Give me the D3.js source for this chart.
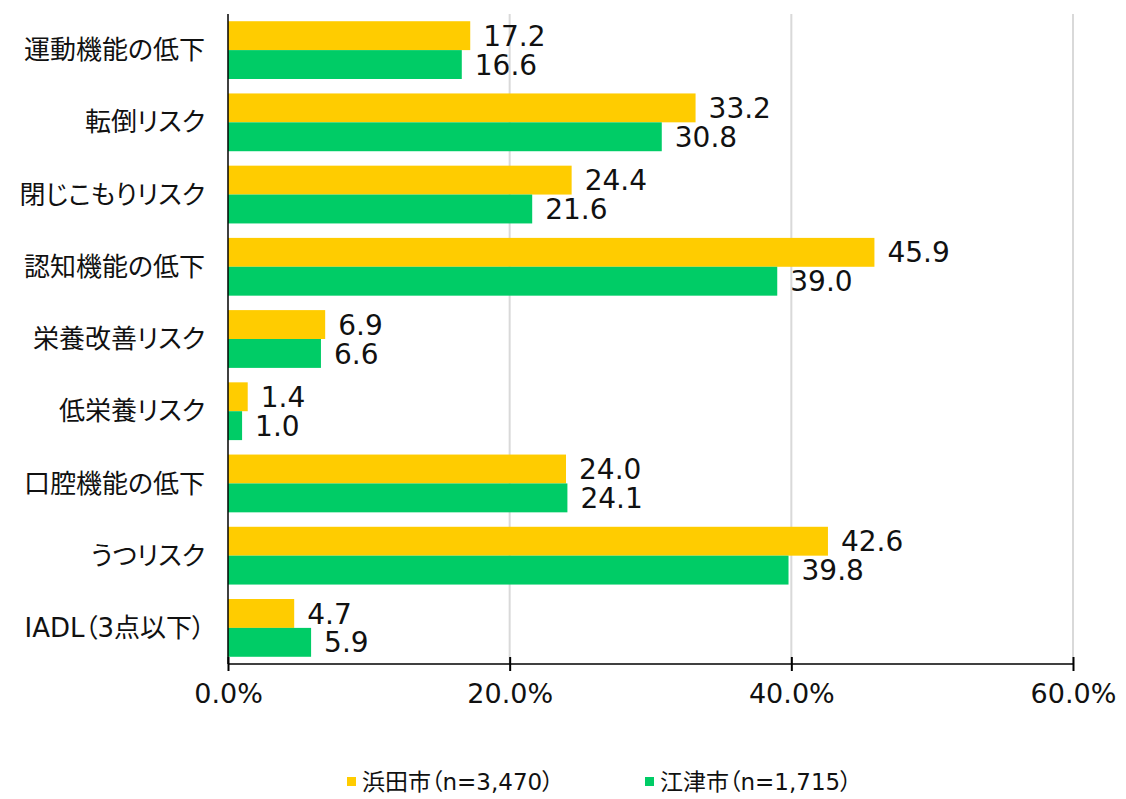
<!DOCTYPE html>
<html><head><meta charset="utf-8">
<script src="https://cdn.jsdelivr.net/npm/d3@7"></script>
<style>body{margin:0;background:#fff} text{font-feature-settings:"palt" 1;}</style>
</head><body>
<svg id="c" width="1126" height="799"></svg>
<script>
const categories = ["運動機能の低下","転倒リスク","閉じこもりリスク","認知機能の低下","栄養改善リスク","低栄養リスク","口腔機能の低下","うつリスク","IADL（3点以下）"];
const hamada = [17.2,33.2,24.4,45.9,6.9,1.4,24.0,42.6,4.7];
const gotsu = [16.6,30.8,21.6,39.0,6.6,1.0,24.1,39.8,5.9];
const seriesNames = ["浜田市（n=3,470）","江津市（n=1,715）"];
const xTicks = [0,20,40,60];
const colors = ["#FFCC00","#00CC66"];

const svg = d3.select("#c");
const font = "'DejaVu Sans','Noto Sans CJK JP',sans-serif";
const x = d3.scaleLinear().domain([0,60]).range([228,1073]);
const y = d3.scaleBand().domain(categories).range([14,664]).paddingInner(0.2).paddingOuter(0.1);
const y1 = d3.scaleBand().domain([0,1]).range([0,y.bandwidth()]);

// grid
svg.append("g").selectAll("line").data(xTicks.filter(d=>d>0)).join("line")
  .attr("x1",d=>x(d)).attr("x2",d=>x(d)).attr("y1",14).attr("y2",664)
  .attr("stroke","#d9d9d9").attr("stroke-width",2);

const series = [hamada,gotsu];
series.forEach((vals,si)=>{
  const g = svg.append("g");
  g.selectAll("rect").data(categories).join("rect")
    .attr("x",x(0)).attr("y",d=>y(d)+y1(si))
    .attr("width",(d,i)=>x(vals[i])-x(0)).attr("height",y1.bandwidth())
    .attr("fill",colors[si]);
  g.selectAll("text").data(categories).join("text")
    .attr("x",(d,i)=>x(vals[i])+13).attr("y",d=>y(d)+y1(si)+y1.bandwidth()/2)
    .attr("dy","0.36em").attr("font-family",font).attr("font-size",28).attr("fill","#111")
    .text((d,i)=>vals[i].toFixed(1));
});

// y axis line
svg.append("line").attr("x1",228).attr("x2",228).attr("y1",14).attr("y2",664).attr("stroke","#000").attr("stroke-width",1.5);
// category labels
svg.append("g").selectAll("text").data(categories).join("text")
  .attr("x",205).attr("y",d=>y(d)+y.bandwidth()/2).attr("dy","0.35em")
  .attr("text-anchor","end").attr("font-family",font).attr("font-size",26).attr("fill","#111")
  .text(d=>d);

// x axis
const xa = svg.append("g").attr("transform","translate(0,664)")
  .call(d3.axisBottom(x).tickValues(xTicks).tickSize(7).tickFormat(d=>d.toFixed(1)+"%"));
xa.select(".domain").attr("stroke","#000").attr("stroke-width",1.5).attr("d","M228,0H1073");
xa.selectAll(".tick line").attr("stroke","#000").attr("stroke-width",2).attr("y1",-7).attr("y2",7);
xa.selectAll(".tick text").attr("font-family",font).attr("font-size",27).attr("fill","#111").attr("y",20).attr("dy","0.71em");

// legend
const lg = [{x:347},{x:645}];
seriesNames.forEach((n,i)=>{
  svg.append("rect").attr("x",lg[i].x).attr("y",777).attr("width",9).attr("height",9).attr("fill",colors[i]);
  svg.append("text").attr("x",lg[i].x+15).attr("y",782).attr("dy","0.36em")
    .attr("font-family",font).attr("font-size",23).attr("fill","#111").text(n);
});
</script>
</body></html>
